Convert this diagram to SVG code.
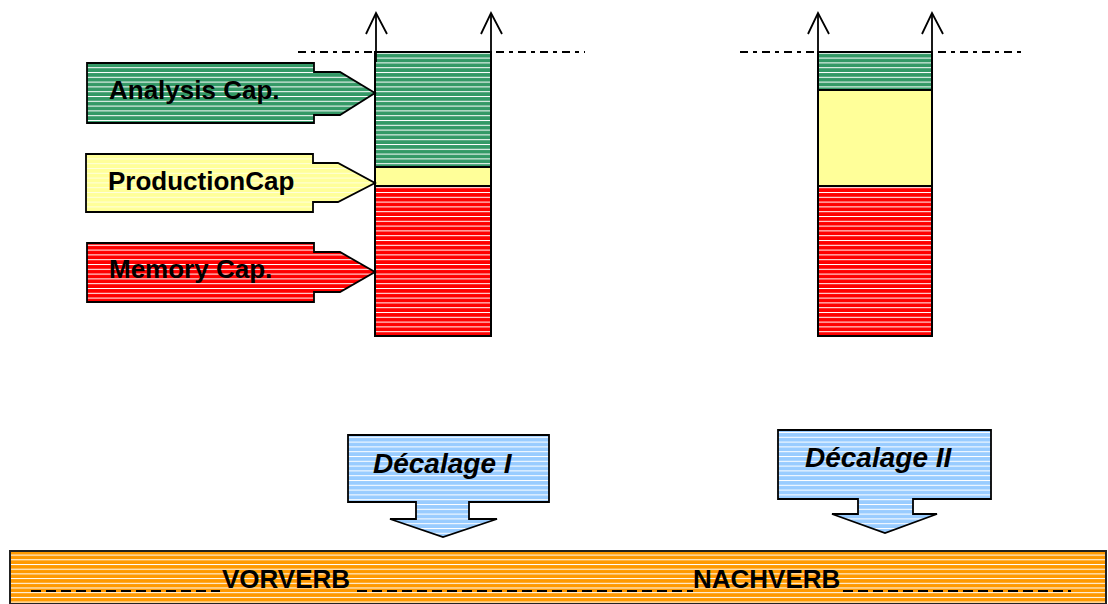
<svg xmlns="http://www.w3.org/2000/svg" width="1108" height="604" viewBox="0 0 1108 604">
<defs>
<pattern id="pGreen" patternUnits="userSpaceOnUse" width="10" height="4.8"><rect width="10" height="4.8" fill="#339966"/><rect y="0" width="10" height="1" fill="#ffffff"/></pattern>
<pattern id="pRed" patternUnits="userSpaceOnUse" width="10" height="4.8"><rect width="10" height="4.8" fill="#ff0000"/><rect y="0" width="10" height="1" fill="#ffffff"/></pattern>
<pattern id="pYellow" patternUnits="userSpaceOnUse" width="10" height="4.8"><rect width="10" height="4.8" fill="#ffff99"/><rect y="0" width="10" height="1" fill="#ffffdd"/></pattern>
<pattern id="pBlue" patternUnits="userSpaceOnUse" width="10" height="4.8"><rect width="10" height="4.8" fill="#99ccff"/><rect y="0" width="10" height="1" fill="#ffffff"/></pattern>
<pattern id="pOrange" patternUnits="userSpaceOnUse" width="10" height="4.7"><rect width="10" height="4.7" fill="#ff9900"/><rect y="0" width="10" height="1" fill="#ffffff"/></pattern>
</defs>
<style>
.lbl{font-family:"Liberation Sans",Arial,sans-serif;font-weight:bold;font-size:26px;fill:#000}
.dec{font-family:"Liberation Sans",Arial,sans-serif;font-weight:bold;font-style:italic;font-size:28px;fill:#000}
.seg{stroke:#000;stroke-width:2}
.pent{stroke:#000;stroke-width:1.8}
.ax{stroke:#000;stroke-width:1.8;fill:none}
.dd{stroke:#000;stroke-width:2;stroke-dasharray:8,5,4,5;fill:none}
.ul{stroke:#000;stroke-width:2;stroke-dasharray:10,5;fill:none}
</style>

<g id="column-left">
<rect class="seg" x="375" y="52" width="116" height="115" fill="url(#pGreen)"/>
<rect class="seg" x="375" y="167" width="116" height="19" fill="#ffff99"/>
<rect class="seg" x="375" y="186" width="116" height="150" fill="url(#pRed)"/>
</g>
<g id="column-right">
<rect class="seg" x="818" y="52" width="114" height="38" fill="url(#pGreen)"/>
<rect class="seg" x="818" y="90" width="114" height="96" fill="#ffff99"/>
<rect class="seg" x="818" y="186" width="114" height="150" fill="url(#pRed)"/>
</g>

<g id="analysis-cap">
<path class="pent" d="M87,63 H314 V72 H340 L375,93 L340,115 H314 V123 H87 Z" fill="url(#pGreen)"/>
<text class="lbl" x="109" y="99">Analysis Cap.</text>
</g>
<g id="production-cap">
<path class="pent" d="M86,154 H313 V163 H338 L375,183 L338,202 H313 V212 H86 Z" fill="url(#pYellow)"/>
<text class="lbl" x="108" y="190">ProductionCap</text>
</g>
<g id="memory-cap">
<path class="pent" d="M87,243 H314 V252 H340 L375,272 L340,292 H314 V302 H87 Z" fill="url(#pRed)"/>
<text class="lbl" x="109" y="278">Memory Cap.</text>
</g>

<g id="decalage-1">
<path class="pent" d="M348,435 H549 V502 H469 V519 H497 L443,537 L390,519 H416 V502 H348 Z" fill="url(#pBlue)"/>
<text class="dec" x="373" y="473">Décalage I</text>
</g>
<g id="decalage-2">
<path class="pent" d="M778,430 H991 V499 H913 V514 H937 L885,533 L832,514 H858 V499 H778 Z" fill="url(#pBlue)"/>
<text class="dec" x="805" y="467">Décalage II</text>
</g>

<g id="verb-bar">
<rect x="10" y="551" width="1096" height="53" fill="url(#pOrange)" stroke="#222" stroke-width="2"/>
<text class="lbl" x="222" y="588">VORVERB</text>
<text class="lbl" x="693" y="588">NACHVERB</text>
</g>

<g id="connectors">
<line class="dd" x1="298" y1="52" x2="585" y2="52"/>
<line class="dd" x1="740" y1="52" x2="1026" y2="52"/>
<line class="ax" x1="376" y1="13" x2="376" y2="62"/>
<polyline class="ax" points="366,34 376,13 387,34"/>
<line class="ax" x1="491" y1="13" x2="491" y2="62"/>
<polyline class="ax" points="481,34 491,13 502,34"/>
<line class="ax" x1="818" y1="13" x2="818" y2="63"/>
<polyline class="ax" points="808,34 818,13 829,34"/>
<line class="ax" x1="932" y1="13" x2="932" y2="63"/>
<polyline class="ax" points="922,34 932,13 943,34"/>
<line class="ul" x1="31" y1="591" x2="220" y2="591"/>
<line class="ul" x1="357" y1="591" x2="693" y2="591"/>
<line class="ul" x1="843" y1="591" x2="1071" y2="591"/>
</g>
</svg>
